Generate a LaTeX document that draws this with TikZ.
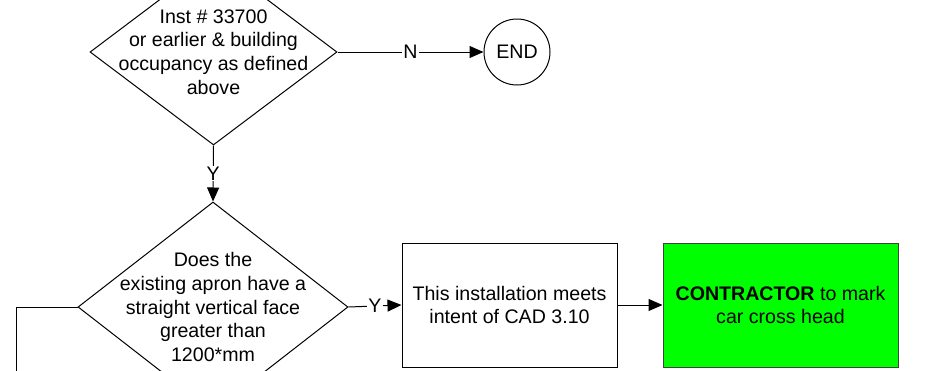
\documentclass[tikz,border=0pt]{standalone}
\usepackage{fontspec}
\setmainfont{Liberation Sans}
\usetikzlibrary{shapes.geometric,arrows.meta}
\definecolor{limegreen}{RGB}{0,255,0}
\begin{document}
\begin{tikzpicture}[x=0.5pt,y=-0.5pt,
  every node/.style={font=\fontsize{9.8}{11.9}\selectfont},
  dia/.style={draw,shape=diamond,line width=0.5pt,minimum width=#1,inner sep=0pt},
  txt/.style={align=center,inner sep=0pt},
  box/.style={draw,line width=0.5pt,align=center,inner sep=0pt},
  lbl/.style={fill=white,inner sep=0.6pt},
  arr/.style={line width=0.5pt,-{Triangle[length=7pt,width=6pt]}},
  ln/.style={line width=0.5pt}]
\clip (0,0) rectangle (932,370);
\fill[white] (0,0) rectangle (932,370);
% top decision
\node[dia=123.5pt,minimum height=93pt] (d1) at (213.5,52) {};
\node[txt] (d1t) at (d1.center) {Inst \# 33700\\or earlier \& building\\occupancy as defined\\above};
% END
\node[draw,circle,line width=0.5pt,minimum size=33pt,inner sep=0pt] (end) at (517,52) {END};
% second decision
\node[dia=135pt,minimum height=105pt] (d2) at (213,307) {};
\node[txt] (d2t) at (d2.center) {Does the\\existing apron have a\\straight vertical face\\greater than\\1200*mm};
% boxes
\node[box,minimum width=107.5pt,minimum height=62pt] (b1) at (509.5,305) {This installation meets\\intent of CAD 3.10};
\node[box,draw=black!75,fill=limegreen,minimum width=117.5pt,minimum height=62pt] (b2) at (780.5,305) {\textbf{CONTRACTOR} to mark\\car cross head};
% connectors
\draw[arr] (d1.east) -- node[lbl] {N} (end.west);
\draw[arr] (d1.south) -- node[lbl] {Y} (d2.north);
\draw[arr] (d2.east) -- node[lbl] {Y} (b1.west);
\draw[arr] (b1.east) -- (b2.west);
\coordinate (lc) at (16,307);
\coordinate (lb) at (16,420);
\draw[ln] (d2.west) -- (lc) -- (lb);
\end{tikzpicture}
\end{document}
